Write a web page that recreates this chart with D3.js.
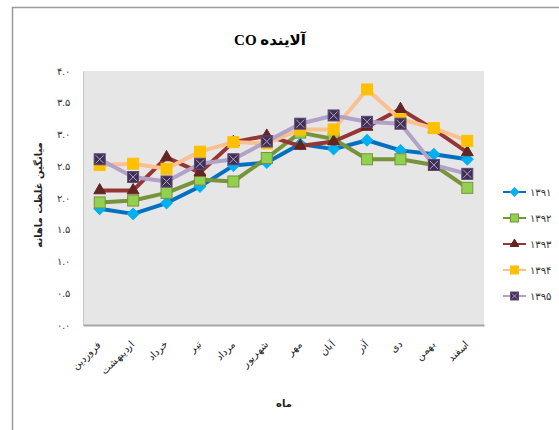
<!DOCTYPE html>
<html>
<head>
<meta charset="utf-8">
<script src="https://cdn.jsdelivr.net/npm/d3@7/dist/d3.min.js"></script>
<style>
  body { margin: 0; background: #fff; }
  svg { display: block; font-family: "DejaVu Sans", "Liberation Serif", serif; }
</style>
</head>
<body>
<svg id="chart" width="559" height="430"></svg>
<script>
// Months of the Persian calendar (category axis)
const months = ["فروردین", "اردیبهشت", "خرداد", "تیر", "مرداد", "شهریور", "مهر", "آبان", "آذر", "دی", "بهمن", "اسفند"];

// Mean monthly CO concentration per year
const years = ["۱۳۹۱", "۱۳۹۲", "۱۳۹۳", "۱۳۹۴", "۱۳۹۵"];
const v1391 = [1.83, 1.75, 1.92, 2.18, 2.51, 2.56, 2.85, 2.77, 2.91, 2.75, 2.69, 2.61];
const v1392 = [1.93, 1.96, 2.08, 2.29, 2.26, 2.63, 3.03, 2.93, 2.61, 2.61, 2.52, 2.16];
const v1393 = [2.12, 2.12, 2.64, 2.40, 2.88, 2.98, 2.82, 2.89, 3.12, 3.40, 3.08, 2.72];
const v1394 = [2.52, 2.54, 2.46, 2.73, 2.88, 2.86, 3.08, 3.08, 3.71, 3.24, 3.10, 2.90];
const v1395 = [2.61, 2.33, 2.26, 2.54, 2.61, 2.89, 3.17, 3.30, 3.20, 3.17, 2.52, 2.38];

const yTicks = [0, 0.5, 1.0, 1.5, 2.0, 2.5, 3.0, 3.5, 4.0];

const styles = [
  { line: "#0070C0", fill: "#00B0F0", stroke: "#00B0F0", shape: "diamond" },
  { line: "#77933C", fill: "#92D050", stroke: "#77933C", shape: "square" },
  { line: "#943634", fill: "#632523", stroke: "#632523", shape: "triangle" },
  { line: "#FAC090", fill: "#FFC000", stroke: "#FFC000", shape: "square" },
  { line: "#B3A2C7", fill: "#403152", stroke: "#403152", shape: "xsquare" }
];
const seriesValues = [v1391, v1392, v1393, v1394, v1395];

const toFa = s => String(s).replace(/\d/g, d => "۰۱۲۳۴۵۶۷۸۹"[d]);

const svg = d3.select("#chart");

// outer frame
svg.append("rect").attr("x", 12.5).attr("y", 7.5).attr("width", 600).attr("height", 500)
  .attr("fill", "none").attr("stroke", "#9a9a9a").attr("stroke-width", 1.5);

const plot = { left: 83, top: 71, right: 484, bottom: 325 };

const x = d3.scaleBand().domain(months).range([plot.left, plot.right]);
const y = d3.scaleLinear().domain([0, 4]).range([plot.bottom, plot.top]);

// plot area background
svg.append("rect").attr("x", plot.left).attr("y", plot.top)
  .attr("width", plot.right - plot.left).attr("height", plot.bottom - plot.top)
  .attr("fill", "#E6E6E6");

// y axis
const yAxis = d3.axisLeft(y).tickValues(yTicks).tickSize(0).tickPadding(13)
  .tickFormat(d => toFa(d3.format(".1f")(d)));
const gy = svg.append("g").attr("transform", `translate(${plot.left},0)`).call(yAxis);
gy.select(".domain").attr("stroke", "#c8c8c8").attr("stroke-width", 1);
gy.selectAll("text").attr("font-size", 10).attr("fill", "#333");

// x axis
const xAxis = d3.axisBottom(x).tickSize(0).tickPadding(0);
const gx = svg.append("g").attr("transform", `translate(0,${plot.bottom})`).call(xAxis);
gx.select(".domain").attr("stroke", "#a6a6a6").attr("stroke-width", 2);
gx.selectAll("text")
  .attr("font-size", 10).attr("fill", "#222")
  .attr("text-anchor", "end")
  .attr("dy", 0)
  .attr("transform", "translate(2,20) rotate(-45)");

// marker drawing
function drawMarker(g, shape, st, size) {
  if (shape === "diamond") {
    g.append("path").attr("d", d3.symbol(d3.symbolSquare, size * size * 0.55)())
      .attr("transform", "rotate(45)")
      .attr("fill", st.fill).attr("stroke", st.stroke);
  } else if (shape === "square") {
    g.append("rect").attr("x", -size / 2).attr("y", -size / 2)
      .attr("width", size).attr("height", size)
      .attr("fill", st.fill).attr("stroke", st.stroke).attr("stroke-width", 1);
  } else if (shape === "triangle") {
    g.append("path").attr("d", d3.symbol(d3.symbolTriangle, size * size * 0.5)())
      .attr("fill", st.fill).attr("stroke", st.stroke);
  } else if (shape === "xsquare") {
    g.append("rect").attr("x", -size / 2).attr("y", -size / 2)
      .attr("width", size).attr("height", size)
      .attr("fill", st.fill).attr("stroke", "#5f497a").attr("stroke-width", 1);
    const h = size / 2 - 1.5;
    g.append("path").attr("d", `M${-h},${-h}L${h},${h}M${h},${-h}L${-h},${h}`)
      .attr("stroke", "#B3A2C7").attr("stroke-width", 1);
  }
}

const line = d3.line().x((d, i) => x(months[i]) + x.bandwidth() / 2).y(d => y(d));

seriesValues.forEach((vals, si) => {
  const st = styles[si];
  svg.append("path").datum(vals).attr("d", line)
    .attr("fill", "none").attr("stroke", st.line).attr("stroke-width", 4)
    .attr("stroke-linejoin", "round");
  vals.forEach((v, i) => {
    const g = svg.append("g")
      .attr("transform", `translate(${x(months[i]) + x.bandwidth() / 2},${y(v)})`);
    drawMarker(g, st.shape, st, 11);
  });
});

// legend
const legendY = d3.scalePoint().domain(years).range([192, 296]);
years.forEach((yr, si) => {
  const st = styles[si];
  const ly = legendY(yr);
  svg.append("line").attr("x1", 503).attr("x2", 526).attr("y1", ly).attr("y2", ly)
    .attr("stroke", st.line).attr("stroke-width", 2);
  const g = svg.append("g").attr("transform", `translate(514.5,${ly})`);
  drawMarker(g, st.shape, st, 8);
  svg.append("text").attr("x", 530).attr("y", ly).attr("dy", "0.35em")
    .attr("font-size", 10).attr("fill", "#333").text(yr);
});

// titles
svg.append("text").attr("x", 270).attr("y", 45).attr("text-anchor", "middle")
  .attr("font-family", "'Liberation Serif', 'DejaVu Sans', serif")
  .attr("font-size", 15).attr("font-weight", "bold").attr("direction", "rtl")
  .text("آلاینده CO");

svg.append("text").attr("transform", "translate(42,195) rotate(-90)")
  .attr("text-anchor", "middle").attr("font-size", 10).attr("font-weight", "bold")
  .attr("fill", "#222").text("میانگین غلظت ماهانه");

svg.append("text").attr("x", 284).attr("y", 407).attr("text-anchor", "middle")
  .attr("font-size", 10).attr("font-weight", "bold").attr("fill", "#222").text("ماه");
</script>
</body>
</html>
